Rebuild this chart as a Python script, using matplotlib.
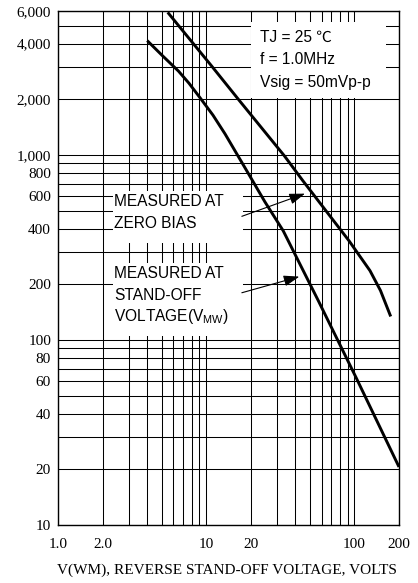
import matplotlib
matplotlib.use('Agg')
import matplotlib.pyplot as plt
from matplotlib.patches import Rectangle
from matplotlib.ticker import FixedLocator, FixedFormatter, NullFormatter

plt.rcParams['mathtext.fontset'] = 'custom'
plt.rcParams['mathtext.rm'] = 'Liberation Sans'
plt.rcParams['mathtext.it'] = 'Liberation Sans'

# ---------------- data ----------------
zero_bias_v = [5.5, 10.9, 16.9, 33.7, 45.0, 91.9, 127.4, 150.0, 175.8]
zero_bias_c = [5900, 3020, 1950, 989, 724, 344, 237, 185, 134]
standoff_v = [4.0, 5.03, 6.5, 7.65, 9.08, 11.1, 13.4, 18.8, 24.9, 33.1, 57.1, 102.5, 200]
standoff_c = [4150, 3460, 2840, 2443, 2040, 1643, 1300, 820, 558, 389, 163, 62.8, 20.6]

x_tick_values = [1, 2, 10, 20, 100, 200]
x_tick_labels = ['1.0', '2.0', '10', '20', '100', '200']
x_grid_values = [1, 2, 3, 4, 5, 6, 7, 8, 9, 10, 20, 30, 40, 50, 60, 70, 80, 90, 100, 200]

y_tick_values = [10, 20, 40, 60, 80, 100, 200, 400, 600, 800, 1000, 2000, 4000, 6000]
y_tick_labels = ['10', '20', '40', '60', '80', '100', '200', '400', '600', '800',
                 '1,000', '2,000', '4,000', '6,000']
y_grid_values = [10, 20, 30, 40, 50, 60, 70, 80, 90, 100, 200, 300, 400, 500, 600, 700,
                 800, 900, 1000, 2000, 3000, 4000, 5000]

conditions = ['TJ = 25 ℃', 'f = 1.0MHz', 'Vsig = 50mVp-p']
label_zero = ['MEASURED AT', 'ZERO BIAS']
label_standoff = ['MEASURED AT', 'STAND-OFF', r'VOLTAGE(V$_{\rm MW}$)']
x_title = 'V(WM), REVERSE STAND-OFF VOLTAGE, VOLTS'

# ---------------- figure ----------------
W, H = 418, 583
fig = plt.figure(figsize=(W / 100, H / 100), dpi=100)
fig.patch.set_facecolor('white')
ax = fig.add_axes([58 / W, 1 - 525 / H, 341 / W, 514 / H])
ax.set_xscale('log')
ax.set_yscale('log')
ax.set_xlim(1, 200)
ax.set_ylim(10, 6000)

ax.xaxis.set_major_locator(FixedLocator(x_tick_values))
ax.xaxis.set_major_formatter(FixedFormatter(x_tick_labels))
ax.xaxis.set_minor_locator(FixedLocator(x_grid_values))
ax.xaxis.set_minor_formatter(NullFormatter())
ax.yaxis.set_major_locator(FixedLocator(y_tick_values))
ax.yaxis.set_major_formatter(FixedFormatter(y_tick_labels))
ax.yaxis.set_minor_locator(FixedLocator(y_grid_values))
ax.yaxis.set_minor_formatter(NullFormatter())

ax.set_axisbelow(True)
ax.grid(True, which='both', color='black', lw=0.75)
ax.tick_params(which='both', length=0)
ax.tick_params(axis='x', pad=9)
ax.tick_params(axis='y', pad=5)
for lbl in ax.get_xticklabels() + ax.get_yticklabels():
    lbl.set_fontfamily('Liberation Serif')
    lbl.set_fontsize(11)
for sp in ax.spines.values():
    sp.set_linewidth(1.0)
    sp.set_color('black')

# white blank areas behind the annotations
for (x0, x1, y0, y1) in [(20.2, 163, 2020, 5200), (2.35, 17.7, 336, 640), (2.35, 17.7, 104.5, 262)]:
    ax.add_patch(Rectangle((x0, y0), x1 - x0, y1 - y0, facecolor='white',
                           edgecolor='none', zorder=1))

# curves
ax.plot(zero_bias_v, zero_bias_c, color='black', lw=2.1, zorder=3,
        solid_capstyle='butt', solid_joinstyle='round')
ax.plot(standoff_v, standoff_c, color='black', lw=2.1, zorder=3,
        solid_capstyle='butt', solid_joinstyle='round')

# arrows
arrow_kw = dict(arrowstyle='-|>,head_length=0.95,head_width=0.33', color='black',
                lw=0.8, shrinkA=0, shrinkB=0, mutation_scale=10)
ax.annotate('', xy=(46.4, 618), xytext=(17.4, 466), arrowprops=arrow_kw, zorder=4)
ax.annotate('', xy=(42.5, 220), xytext=(17.4, 180), arrowprops=arrow_kw, zorder=4)

sans = ['Liberation Sans', 'Noto Sans CJK SC', 'DejaVu Sans']
def ftext(px, py, s):
    fig.text(px / W, 1 - py / H, s, ha='left', va='center', fontsize=11.2,
             family=sans, color='black', zorder=5)

for i, s in enumerate(conditions):
    ftext(260, 37 + i * 22.7, s)
for i, s in enumerate(label_zero):
    ftext(114, 201.5 + i * 21.7, s)
for i, s in enumerate(label_standoff):
    ftext(114, 273.5 + i * 21.7, s)

fig.text(227 / W, 1 - 570 / H, x_title, ha='center', va='center',
         family='Liberation Serif', fontsize=11)

fig.savefig('out.png', dpi=100)
